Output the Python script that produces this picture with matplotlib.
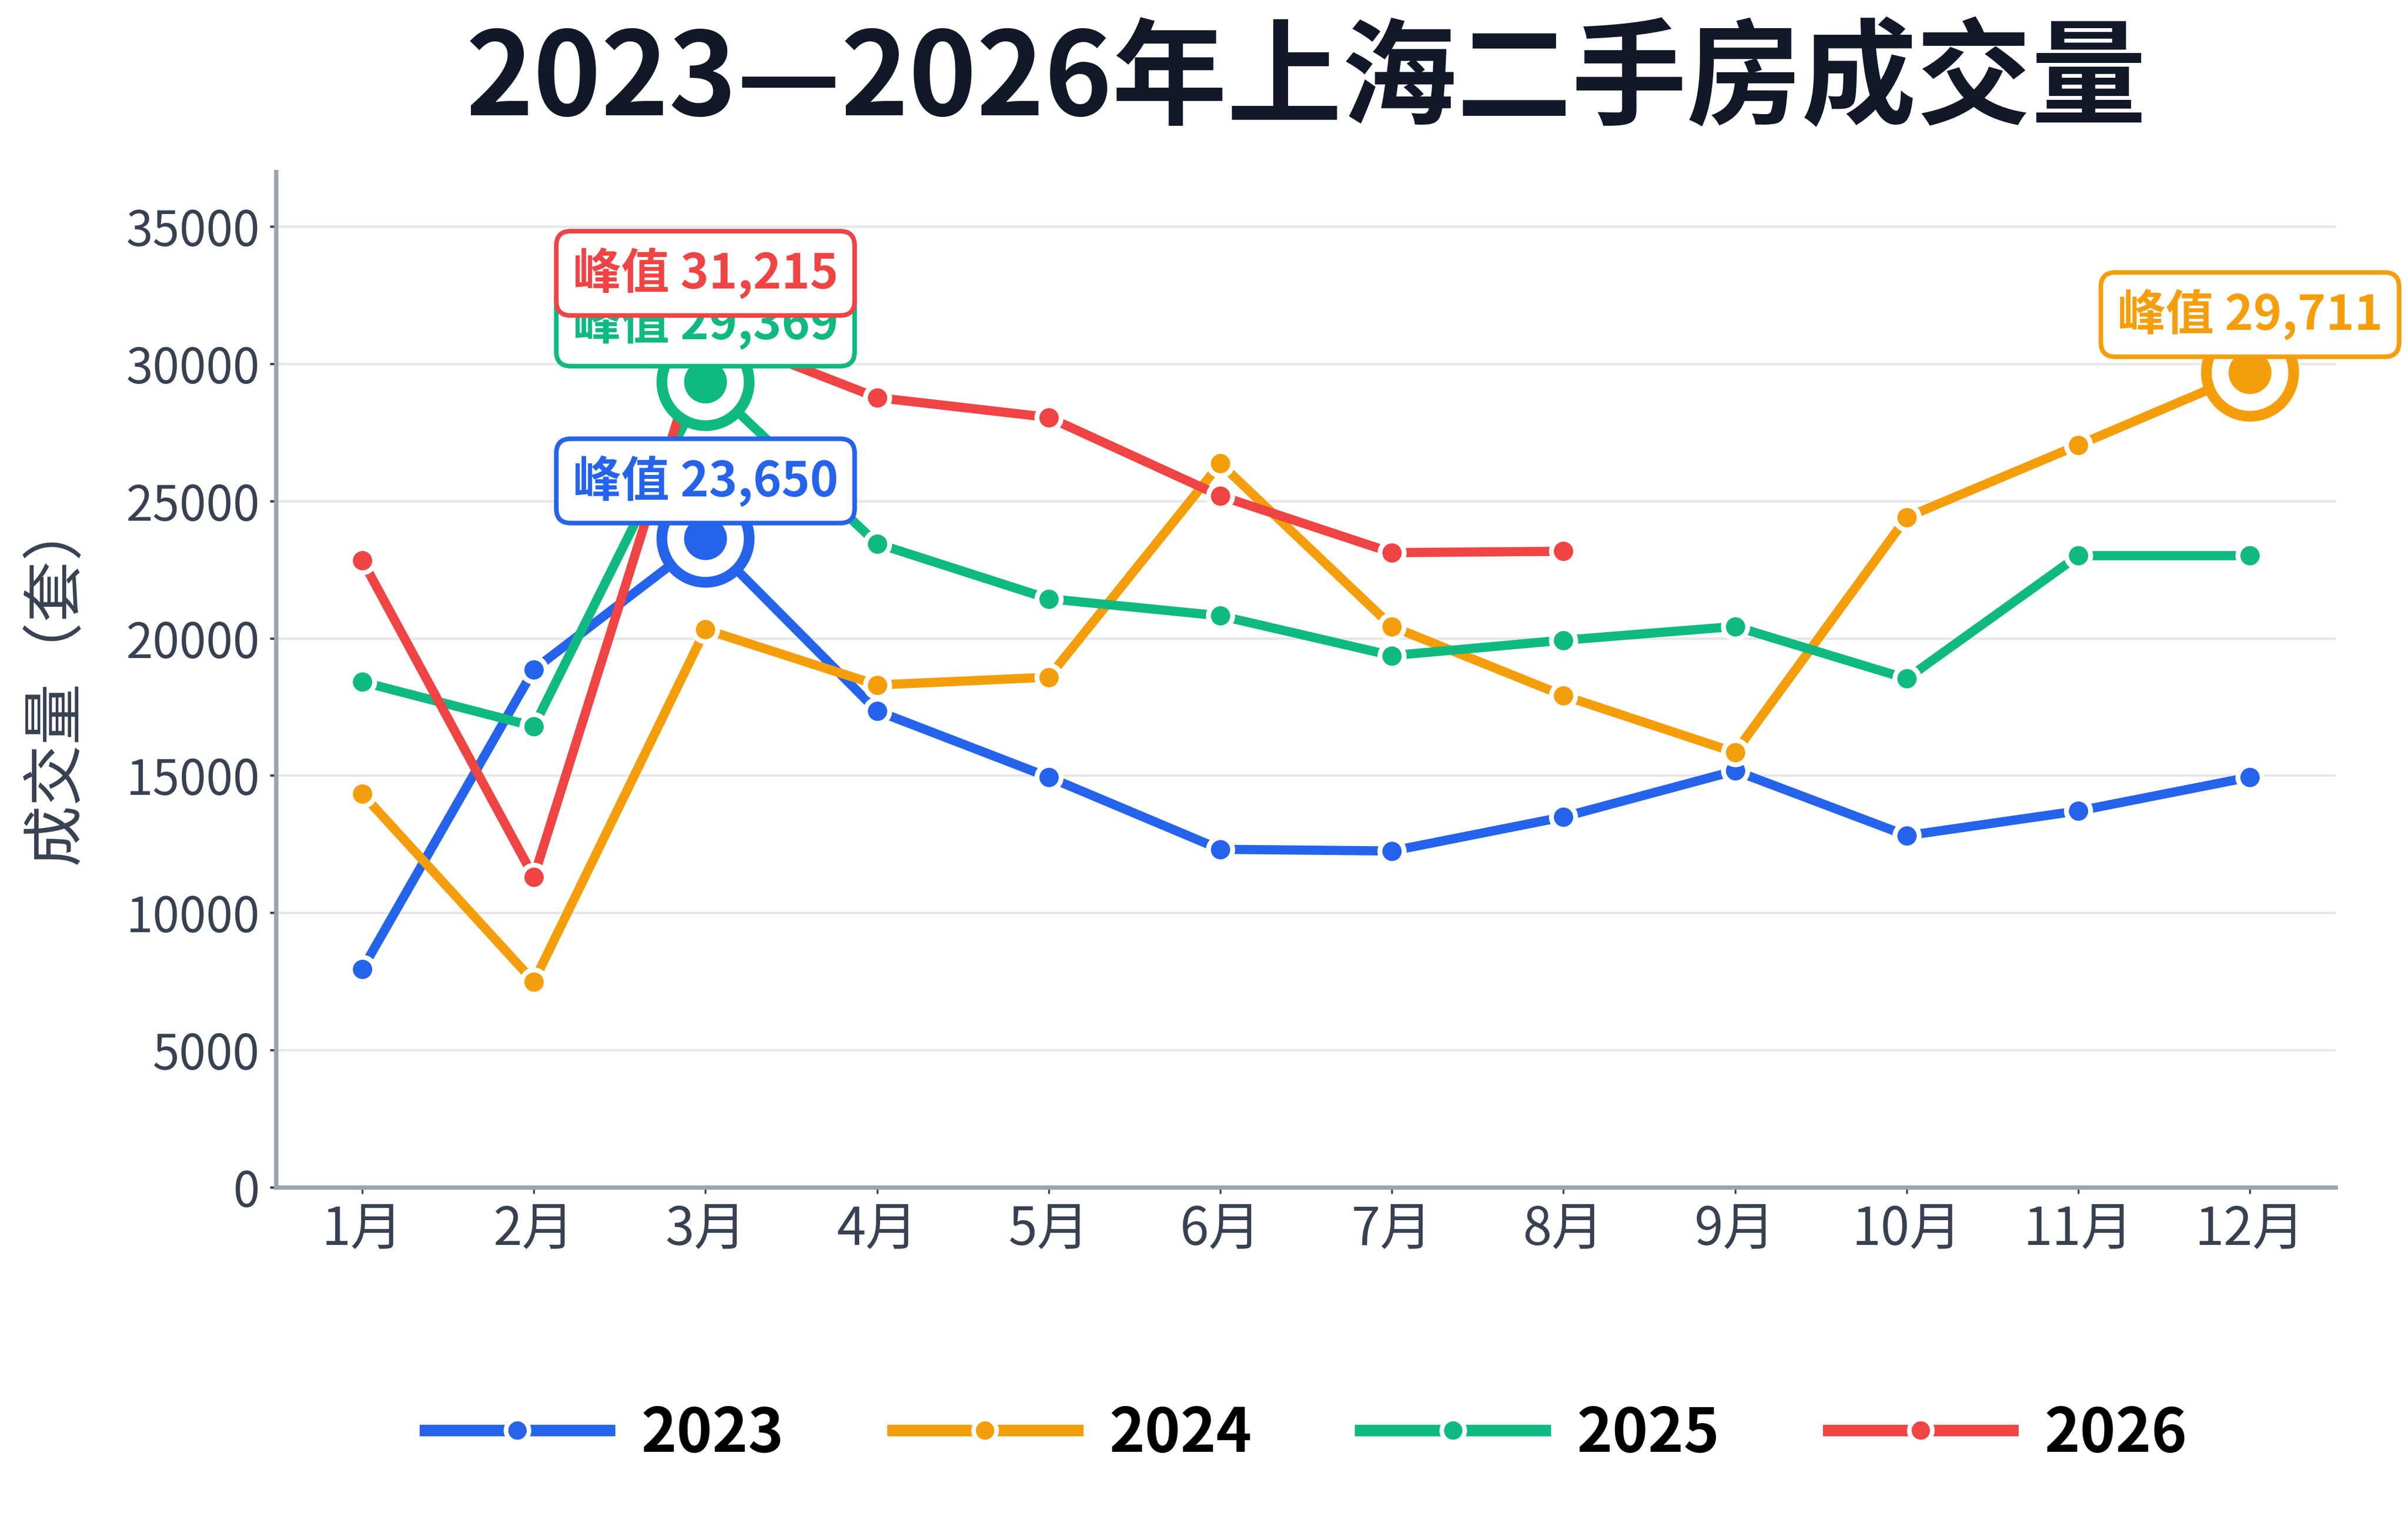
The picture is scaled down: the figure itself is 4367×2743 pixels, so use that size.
import matplotlib
matplotlib.use('Agg')
import matplotlib.pyplot as plt
from matplotlib.lines import Line2D

plt.rcParams['font.family'] = ['Noto Sans CJK SC', 'DejaVu Sans']

# Data
months = ['1月', '2月', '3月', '4月', '5月', '6月', '7月', '8月', '9月', '10月', '11月', '12月']
years = ['2023', '2024', '2025', '2026']
sales_2023 = [7950, 18870, 23650, 17360, 14950, 12320, 12260, 13500, 15180, 12820, 13720, 14950]
sales_2024 = [14340, 7500, 20330, 18310, 18590, 26380, 20440, 17920, 15850, 24420, 27050, 29711]
sales_2025 = [18420, 16800, 29369, 23460, 21450, 20830, 19380, 19940, 20440, 18540, 23020, 23020]
sales_2026 = [22850, 11310, 31215, 28780, 28060, 25200, 23130, 23180]
colors = ['#2563eb', '#f59e0b', '#10b981', '#ef4444']

series = [sales_2023, sales_2024, sales_2025, sales_2026]
peak_marker_z = [6, 6, 6, 5]
peak_label_z = [10, 10, 11, 12]

fig = plt.figure(figsize=(21.835, 13.715), dpi=200)
ax = fig.add_axes([0.1148, 0.2152, 0.8552, 0.6711])

for i, (yr, vals, c) in enumerate(zip(years, series, colors)):
    x = list(range(len(vals)))
    ax.plot(x, vals, color=c, lw=6, marker='o', markersize=15.8,
            markerfacecolor=c, markeredgecolor='white', markeredgewidth=3.2,
            solid_capstyle='round', zorder=3)
    # peak
    pk = max(range(len(vals)), key=lambda k: vals[k])
    ax.plot([pk], [vals[pk]], marker='o', markersize=57, markerfacecolor='white',
            markeredgecolor=c, markeredgewidth=7, linestyle='none', zorder=peak_marker_z[i])
    ax.plot([pk], [vals[pk]], marker='o', markersize=28, markerfacecolor=c,
            markeredgewidth=0, linestyle='none', zorder=peak_marker_z[i] + 0.1)
    ax.annotate(f'峰值 {vals[pk]:,}', (pk, vals[pk]), xytext=(0, 37.5),
                textcoords='offset points', ha='center', va='center',
                fontsize=31.5, fontweight='bold', color=c, zorder=peak_label_z[i],
                bbox=dict(boxstyle='round,pad=0.34,rounding_size=0.3',
                          facecolor='white', edgecolor=c, linewidth=3))

ax.set_xlim(-0.5, 11.5)
ax.set_ylim(0, 37000)
ax.set_xticks(range(12))
ax.set_xticklabels(months)
ax.set_yticks(range(0, 35001, 5000))

ax.grid(axis='y', color='#e5e7eb', lw=1.6, zorder=0)
ax.set_axisbelow(True)
for s in ['top', 'right']:
    ax.spines[s].set_visible(False)
for s in ['left', 'bottom']:
    ax.spines[s].set_color('#9ca3af')
    ax.spines[s].set_linewidth(2.8)

ax.tick_params(axis='y', labelsize=31.5, colors='#374151', length=4, width=1.5, pad=7)
ax.tick_params(axis='x', labelsize=34, colors='#374151', length=4, width=1.2, pad=6)

ax.set_ylabel('成交量（套）', fontsize=40, color='#374151')
ax.yaxis.set_label_coords(-0.092, 0.499)

fig.text(0.5424, 0.946, '2023—2026年上海二手房成交量', ha='center', va='center',
         fontsize=75, fontweight='bold', color='#111827')

handles = [Line2D([0], [0], color=c, lw=7.5, marker='o', markersize=15,
                  markerfacecolor=c, markeredgecolor='white', markeredgewidth=3)
           for c in colors]
leg = fig.legend(handles, years, loc='center', bbox_to_anchor=(0.5424, 0.052), ncol=4,
                 frameon=False, handlelength=3.05, handletextpad=0.52, columnspacing=1.8,
                 prop={'size': 39.5, 'weight': 'bold'})
for t in leg.get_texts():
    t.set_color('black')

fig.savefig('out.png', dpi=200)
